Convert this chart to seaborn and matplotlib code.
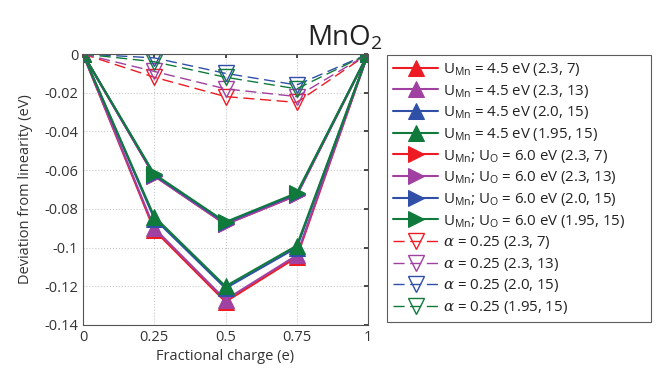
import matplotlib
matplotlib.use("Agg")
import matplotlib.pyplot as plt
import seaborn as sns
import numpy as np

sns.set_theme(style="white")
plt.rcParams['font.family'] = ['Open Sans', 'DejaVu Sans']
plt.rcParams['mathtext.fontset'] = 'custom'
plt.rcParams['mathtext.rm'] = 'Open Sans'
plt.rcParams['mathtext.it'] = 'DejaVu Serif:italic'

# ---- data ----
x = [0, 0.25, 0.5, 0.75, 1]
colors = ["#ed1c24", "#a040a0", "#3050a8", "#107a3c"]
params = ["(2.3, 7)", "(2.3, 13)", "(2.0, 15)", "(1.95, 15)"]

u45 = [
    [0, -0.091, -0.128, -0.105, 0],
    [0, -0.090, -0.127, -0.104, 0],
    [0, -0.085, -0.121, -0.100, 0],
    [0, -0.084, -0.120, -0.099, 0],
]
u60 = [
    [0, -0.063, -0.088, -0.073, 0],
    [0, -0.063, -0.088, -0.073, 0],
    [0, -0.0625, -0.0872, -0.0722, 0],
    [0, -0.062, -0.0868, -0.0718, 0],
]
alpha = [
    [0, -0.012, -0.022, -0.025, 0],
    [0, -0.009, -0.018, -0.022, 0],
    [0, -0.002, -0.010, -0.016, 0],
    [0, -0.004, -0.012, -0.018, 0],
]
yticks = [0, -0.02, -0.04, -0.06, -0.08, -0.1, -0.12, -0.14]
ytick_labels = ["0", "-0.02", "-0.04", "-0.06", "-0.08", "-0.1", "-0.12", "-0.14"]
xticks = [0, 0.25, 0.5, 0.75, 1]
xtick_labels = ["0", "0.25", "0.5", "0.75", "1"]

fig = plt.figure(figsize=(6.7, 3.81), dpi=100)
ax = fig.add_axes([83/670, 1-325/381, (368-83)/670, (325-54)/381])

for vals, c, p in zip(u45, colors, params):
    sns.lineplot(x=x, y=vals, ax=ax, color=c, marker='^', markersize=12,
                 markeredgecolor=c, markerfacecolor=c, linewidth=1.5,
                 label=r"U$_{\mathregular{Mn}}$ = 4.5 eV " + p, legend=False)
for vals, c, p in zip(u60, colors, params):
    sns.lineplot(x=x, y=vals, ax=ax, color=c, marker='>', markersize=12,
                 markeredgecolor=c, markerfacecolor=c, linewidth=1.5,
                 label=r"U$_{\mathregular{Mn}}$; U$_{\mathregular{O}}$ = 6.0 eV " + p, legend=False)
for vals, c, p in zip(alpha, colors, params):
    sns.lineplot(x=x, y=vals, ax=ax, color=c, marker='v', markersize=11,
                 markeredgecolor=c, markerfacecolor='none', markeredgewidth=1.0,
                 linewidth=1.0, linestyle=(0, (8, 4)),
                 label=r"$\alpha$ = 0.25 " + p, legend=False)

ax.set_xlim(0, 1)
ax.set_ylim(-0.14, 0)
ax.set_xticks(xticks)
ax.set_xticklabels(xtick_labels)
ax.set_yticks(yticks)
ax.set_yticklabels(ytick_labels)
ax.grid(True, linestyle=':', color='#c8c8c8', linewidth=0.8)
ax.tick_params(direction='in', length=3, colors='#333333', labelsize=10.5,
               top=True, right=True, labelcolor='#333333')
for s in ax.spines.values():
    s.set_color('#555555')
    s.set_linewidth(0.8)
ax.set_xlabel("Fractional charge (e)", fontsize=10.5, color='#333333', labelpad=3)
ax.set_ylabel("Deviation from linearity (eV)", fontsize=10.5, color='#333333', labelpad=8)

fig.text(345/670, 1-38/381, r"MnO$_{\mathregular{2}}$", fontsize=20, ha='center',
         va='center', color='#222222')

h, l = ax.get_legend_handles_labels()
leg = fig.legend(h, l, loc='upper left',
                 bbox_to_anchor=(387/670, 1-325/381, (651-387)/670, (325-55)/381),
                 mode='expand',
                 fontsize=10.8, frameon=True, fancybox=False, edgecolor='#333333',
                 handlelength=3.0, labelspacing=0.31, borderpad=0.4,
                 handletextpad=0.35, borderaxespad=0)
leg.get_frame().set_linewidth(0.8)
for t in leg.get_texts():
    t.set_color('#222222')

fig.savefig("out.png", dpi=100)
